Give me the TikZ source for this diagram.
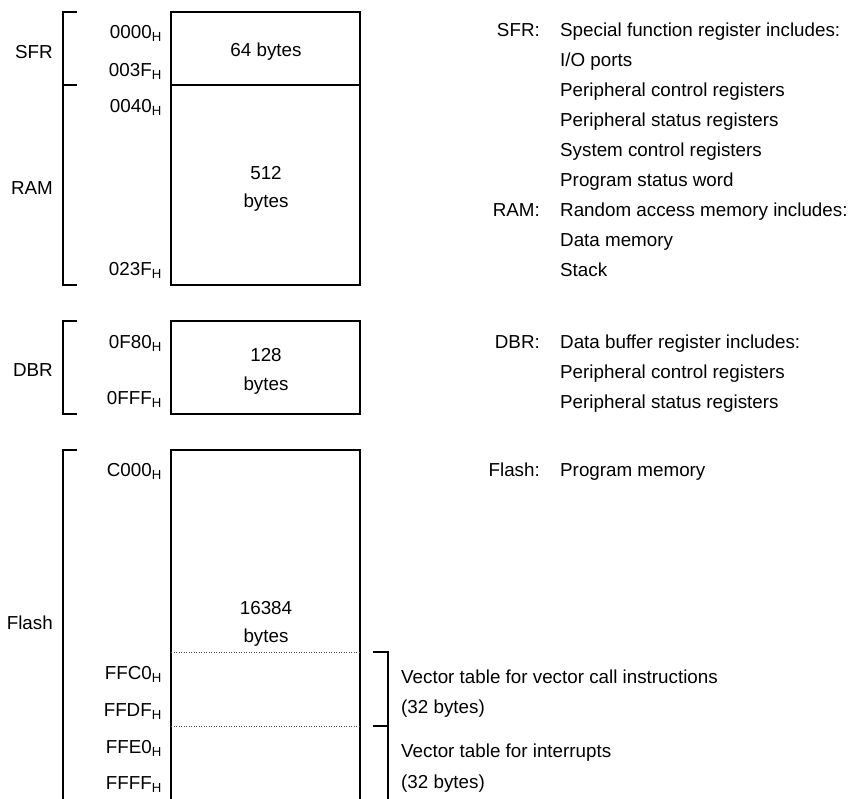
\documentclass[tikz,border=0pt]{standalone}
\usepackage{fontspec}
\setmainfont{Liberation Sans}
\usepackage{tikz}
\newcommand{\hx}[1]{#1\textsubscript{H}}

\begin{document}
\begin{tikzpicture}[x = 1pt, y = -1pt, font = \fontsize{18.8}{22}\selectfont,
  txt/.style = {inner sep = 0, text height = 13.4pt, text depth = 0pt},
  addr/.style = {txt, anchor = east},
  note/.style = {txt, anchor = west},
  mem/.style = {line width = 1.4pt},
  part/.style = {dotted, line width = .5pt, black!70}]
  \clip (0, 0) rectangle (850, 798);
  \fill[white] (0, 0) rectangle (850, 798);

  \draw[mem] (171, 12) rectangle (360, 285);
  \draw[mem] (171, 85) -- (360, 85);
  \draw[mem] (171, 321) rectangle (360, 414);
  \draw[mem] (171, 450) rectangle (360, 820);
  \foreach \y in {652, 726}
  {
  \draw[part] (171, \y) -- (360, \y);
  }

  \draw[mem] (77, 12) -- (63, 12) -- (63, 285) -- (77, 285);
  \draw[mem] (63, 85) -- (77, 85);
  \draw[mem] (77, 321) -- (63, 321) -- (63, 414) -- (77, 414);
  \draw[mem] (77, 450) -- (63, 450) -- (63, 820);
  \draw[mem] (373, 652) -- (388, 652) -- (388, 820);
  \draw[mem] (373, 726) -- (388, 726);

  \node[addr] at (53, 52) (sfr) {SFR};
  \node[addr] at (53, 188) (ram) {RAM};
  \node[addr] at (53, 370) (dbr) {DBR};
  \node[addr] at (53, 623) (flash) {Flash};

  \node[addr] at (162, 32) (a0000) {\hx{0000}};
  \node[addr] at (162, 70) (a003F) {\hx{003F}};
  \node[addr] at (162, 106) (a0040) {\hx{0040}};
  \node[addr] at (162, 269) (a023F) {\hx{023F}};
  \node[addr] at (162, 342) (a0F80) {\hx{0F80}};
  \node[addr] at (162, 398) (a0FFF) {\hx{0FFF}};
  \node[addr] at (162, 470) (aC000) {\hx{C000}};
  \node[addr] at (162, 673) (aFFC0) {\hx{FFC0}};
  \node[addr] at (162, 710) (aFFDF) {\hx{FFDF}};
  \node[addr] at (162, 747) (aFFE0) {\hx{FFE0}};
  \node[addr] at (162, 783) (aFFFF) {\hx{FFFF}};

  \node[txt] at (266, 50) (sfrsize) {64 bytes};
  \node[txt] at (266, 173) (ramsize) {512};
  \node[txt] at (266, 201) (ramunit) {bytes};
  \node[txt] at (266, 355) (dbrsize) {128};
  \node[txt] at (266, 384) (dbrunit) {bytes};
  \node[txt] at (266, 608) (flashsize) {16384};
  \node[txt] at (266, 636) (flashunit) {bytes};

  \node[addr] at (540, 30) (sfrkey) {SFR:};
  \node[note] at (560, 30) (sfrtext) {Special function register includes:};
  \node[note] at (560, 60) (sfr1) {I/O ports};
  \node[note] at (560, 90) (sfr2) {Peripheral control registers};
  \node[note] at (560, 120) (sfr3) {Peripheral status registers};
  \node[note] at (560, 150) (sfr4) {System control registers};
  \node[note] at (560, 180) (sfr5) {Program status word};
  \node[addr] at (540, 210) (ramkey) {RAM:};
  \node[note] at (560, 210) (ramtext) {Random access memory includes:};
  \node[note] at (560, 240) (ram1) {Data memory};
  \node[note] at (560, 270) (ram2) {Stack};
  \node[addr] at (540, 342) (dbrkey) {DBR:};
  \node[note] at (560, 342) (dbrtext) {Data buffer register includes:};
  \node[note] at (560, 372) (dbr1) {Peripheral control registers};
  \node[note] at (560, 402) (dbr2) {Peripheral status registers};
  \node[addr] at (540, 470) (flashkey) {Flash:};
  \node[note] at (560, 470) (flashtext) {Program memory};

  \node[note] at (401, 677) (vcall) {Vector table for vector call instructions};
  \node[note] at (401, 707) (vcallsize) {(32 bytes)};
  \node[note] at (401, 751) (vint) {Vector table for interrupts};
  \node[note] at (401, 782) (vintsize) {(32 bytes)};
\end{tikzpicture}
\end{document}
